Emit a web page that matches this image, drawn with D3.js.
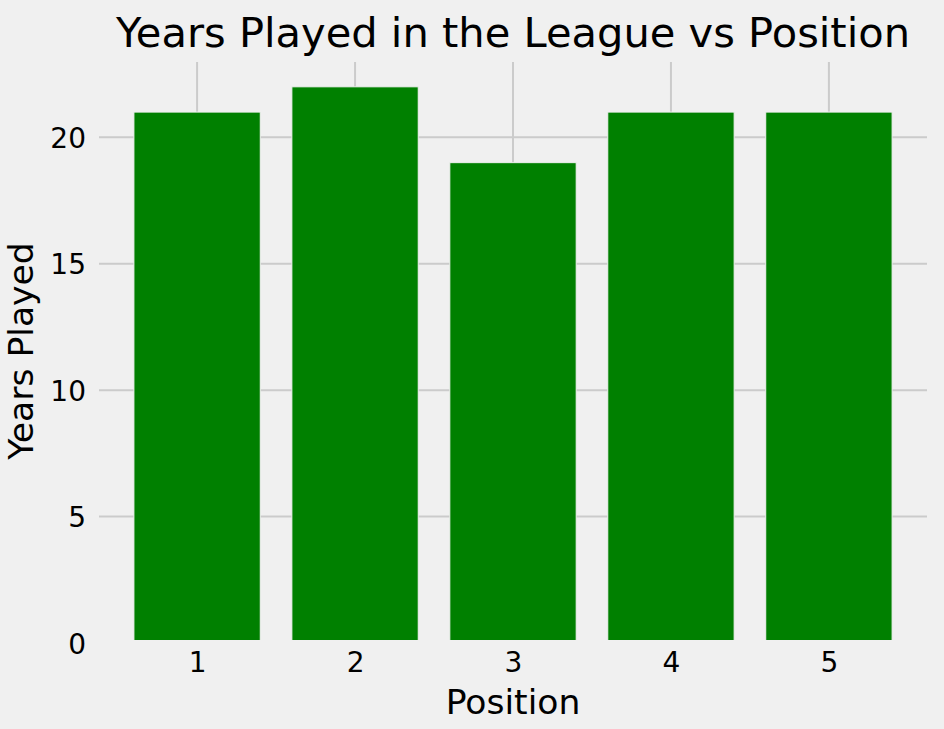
<!DOCTYPE html>
<html>
<head>
<meta charset="utf-8">
<script src="https://cdn.jsdelivr.net/npm/d3@7"></script>
<style>
  body { margin: 0; background: #f0f0f0; }
  text { font-family: "DejaVu Sans", sans-serif; fill: #000; }
</style>
</head>
<body>
<svg id="chart"></svg>
<script>
// Data
const positions = [1, 2, 3, 4, 5];
const yearsPlayed = [21, 22, 19, 21, 21];
const yTicks = [0, 5, 10, 15, 20];

const W = 944, H = 729;
// Axes box in pixels (matplotlib-like layout)
const margin = {top: 59, right: 14, bottom: 86, left: 96};
const width = W - margin.left - margin.right,
      height = H - margin.top - margin.bottom;

const svg = d3.select("#chart")
    .attr("width", W)
    .attr("height", H);

svg.append("rect")
    .attr("width", W)
    .attr("height", H)
    .attr("fill", "#f0f0f0");

const g = svg.append("g")
    .attr("transform", `translate(${margin.left}, ${margin.top})`);

// Scales: bars of width 0.8 with 5% margins on x, sticky 0 on y
const x = d3.scaleLinear()
    .domain([0.36, 5.64])
    .range([0, width]);
const y = d3.scaleLinear()
    .domain([0, 23.1])
    .range([height, 0]);

// Grid lines (drawn under the bars)
g.append("g")
    .selectAll("line")
    .data(yTicks)
    .join("line")
    .attr("x1", 0)
    .attr("x2", width)
    .attr("y1", d => y(d))
    .attr("y2", d => y(d))
    .attr("stroke", "#cbcbcb")
    .attr("stroke-width", 2);

g.append("g")
    .selectAll("line")
    .data(positions)
    .join("line")
    .attr("x1", d => x(d))
    .attr("x2", d => x(d))
    .attr("y1", 0)
    .attr("y2", height)
    .attr("stroke", "#cbcbcb")
    .attr("stroke-width", 2);

// Bars
g.append("g")
    .selectAll("rect")
    .data(positions)
    .join("rect")
    .attr("x", d => x(d - 0.4))
    .attr("y", (d, i) => y(yearsPlayed[i]))
    .attr("width", x(1.16) - x(0.36))
    .attr("height", (d, i) => y(0) - y(yearsPlayed[i]))
    .attr("fill", "#008000")
    .attr("stroke", "#f0f0f0")
    .attr("stroke-width", 1);

// Spines in background colour (cover grid ends)
g.append("rect")
    .attr("width", width)
    .attr("height", height)
    .attr("fill", "none")
    .attr("stroke", "#f0f0f0")
    .attr("stroke-width", 6);

// X axis
const xAxis = g.append("g")
    .attr("transform", `translate(0, ${height})`)
    .call(d3.axisBottom(x).tickValues(positions).tickSize(0).tickPadding(0).tickFormat(d3.format("d")));
xAxis.select(".domain").remove();
xAxis.selectAll("text")
    .attr("y", 29)
    .attr("dy", null)
    .style("font-size", "28px")
    .style("font-family", "DejaVu Sans");

// Y axis
const yAxis = g.append("g")
    .call(d3.axisLeft(y).tickValues(yTicks).tickSize(0).tickPadding(0));
yAxis.select(".domain").remove();
yAxis.selectAll("text")
    .attr("x", -10)
    .attr("dy", "0.36em")
    .style("font-size", "28px")
    .style("font-family", "DejaVu Sans");

// Title and axis labels
svg.append("text")
    .attr("x", margin.left + width / 2)
    .attr("y", 47)
    .attr("text-anchor", "middle")
    .style("font-size", "41.6px")
    .text("Years Played in the League vs Position");

svg.append("text")
    .attr("x", margin.left + width / 2)
    .attr("y", 714)
    .attr("text-anchor", "middle")
    .style("font-size", "34.6px")
    .text("Position");

svg.append("text")
    .attr("transform", `translate(33, ${margin.top + height / 2}) rotate(-90)`)
    .attr("text-anchor", "middle")
    .style("font-size", "34.6px")
    .text("Years Played");
</script>
</body>
</html>
